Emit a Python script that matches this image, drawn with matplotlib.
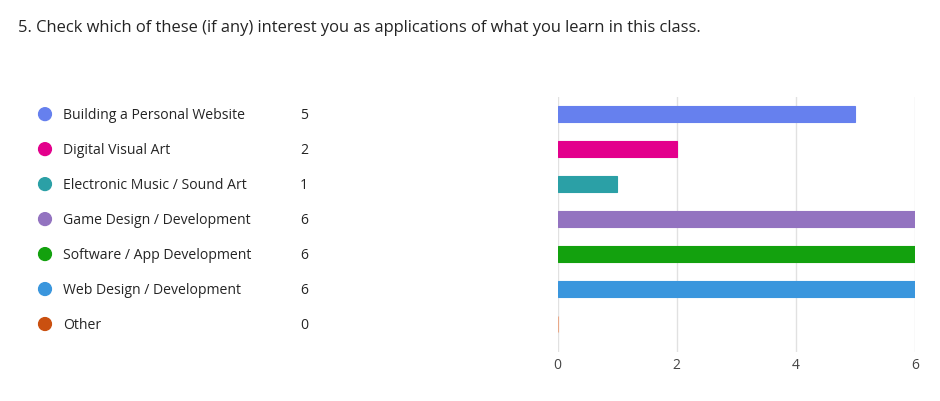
import numpy as np
import matplotlib.pyplot as plt

plt.rcParams['font.family'] = ['Open Sans', 'DejaVu Sans']

labels = ["Building a Personal Website", "Digital Visual Art", "Electronic Music / Sound Art",
          "Game Design / Development", "Software / App Development", "Web Design / Development", "Other"]
counts = [5, 2, 1, 6, 6, 6, 0]
colors = ["#6680EE", "#E3008C", "#2BA0A6", "#9373C0", "#13A10E", "#3A96DD", "#CA5010"]
xticks = [0, 2, 4, 6]
title = "5. Check which of these (if any) interest you as applications of what you learn in this class."

fig = plt.figure(figsize=(9.4, 4.01), dpi=100)
fig.text(18 / 940, 1 - 28 / 401, title, fontsize=11.9, color="#242424", va="center")

y = np.arange(len(labels))
ylim = (len(labels) - 0.2, -0.49)

# bar chart
ax = fig.add_axes([557.5 / 940, 1 - 352 / 401, 357.5 / 940, 255 / 401])
edges = [c if n > 0 else "#E8A888" for c, n in zip(colors, counts)]
ax.barh(y, counts, height=0.46, color=colors, edgecolor=edges, linewidth=0.8, zorder=3)
ax.set_xlim(0, 6)
ax.set_ylim(*ylim)
ax.set_xticks(xticks)
ax.grid(axis="x", color="#e1e1e1", linewidth=1, zorder=0)
ax.set_yticks([])
for s in ax.spines.values():
    s.set_visible(False)
ax.tick_params(axis="x", length=0, pad=4, labelsize=10, labelcolor="#444444")

# legend list on the left
lg = fig.add_axes([0, 1 - 352 / 401, 340 / 940, 255 / 401])
lg.set_xlim(0, 340)
lg.set_ylim(*ylim)
lg.axis("off")
lg.scatter(np.full(len(y), 45), y, s=85, c=colors, zorder=3)
for yi, lab, n in zip(y, labels, counts):
    lg.text(63, yi + 0.05, lab, fontsize=10.1, color="#242424", va="center")
    lg.text(300, yi + 0.05, str(n), fontsize=10.1, color="#242424", va="center")

fig.savefig("out.png", dpi=100)
